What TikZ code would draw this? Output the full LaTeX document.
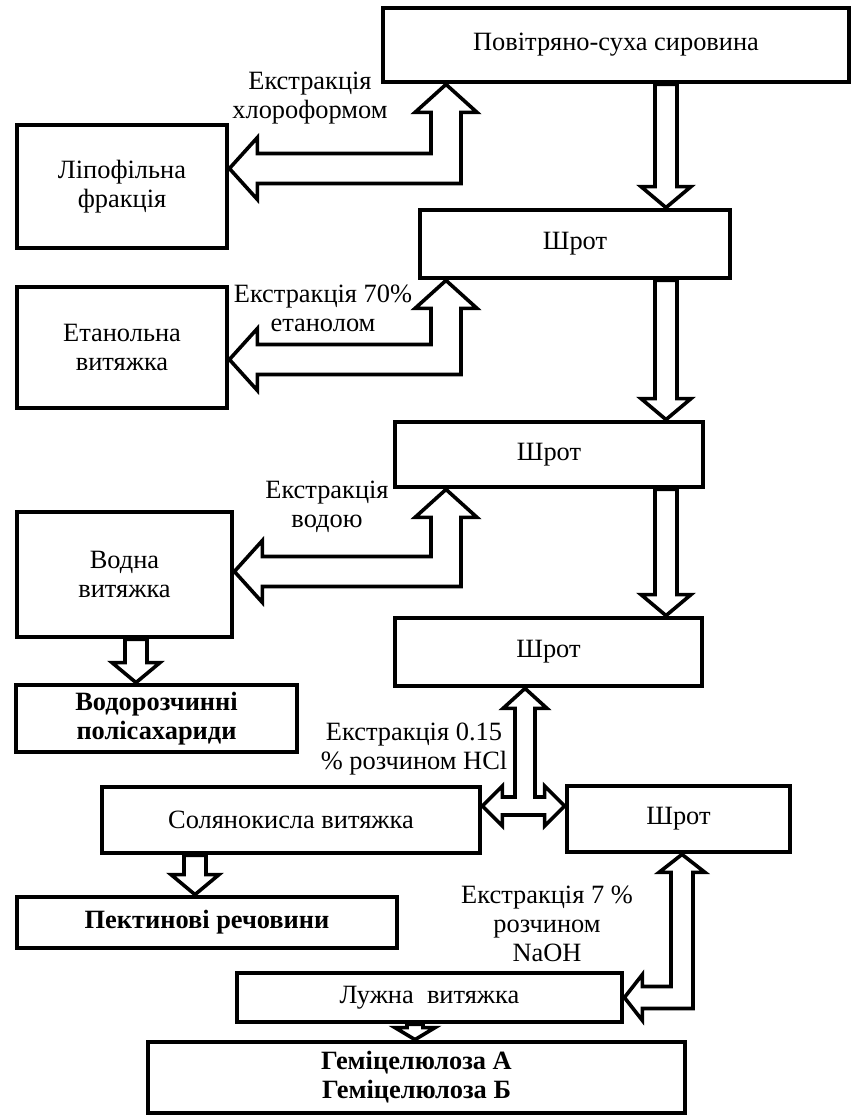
\documentclass[tikz,border=0pt]{standalone}
\usepackage{fontspec}
\setmainfont{Liberation Serif}
\usetikzlibrary{calc}

\newcommand{\mainsize}{\fontsize{13.2pt}{14.5pt}\selectfont}

% hollow block arrow pointing down: from, to, shaft, head, head length
\newcommand{\blockdown}[5]{%
  \draw[blockarrow] let \p1=(#1), \p2=(#2) in
    (\x1-#3,\y1) -- (\x1-#3,\y2+#5) -- (\x1-#4,\y2+#5) -- (\x1,\y2)
    -- (\x1+#4,\y2+#5) -- (\x1+#3,\y2+#5) -- (\x1+#3,\y1) -- cycle;}

% hollow L-shaped arrow: tip up, tip left, shaft, head, head length
\newcommand{\bentblock}[5]{%
  \draw[blockarrow] let \p1=(#1), \p2=(#2) in
    (\x1,\y1) -- (\x1+#4,\y1-#5) -- (\x1+#3,\y1-#5) -- (\x1+#3,\y2-#3)
    -- (\x2+#5,\y2-#3) -- (\x2+#5,\y2-#4) -- (\x2,\y2) -- (\x2+#5,\y2+#4)
    -- (\x2+#5,\y2+#3) -- (\x1-#3,\y2+#3) -- (\x1-#3,\y1-#5)
    -- (\x1-#4,\y1-#5) -- cycle;}

\tikzset{
  box/.style={draw, line width=2.4pt, align=center, inner sep=2pt, font=\mainsize},
  boldbox/.style={box, font=\mainsize\bfseries},
  note/.style={align=center, inner sep=1pt, font=\mainsize},
  blockarrow/.style={draw, line width=1.8pt, fill=white, line join=miter}
}

\begin{document}
\begin{tikzpicture}[x=0.5pt,y=-0.5pt]
  \useasboundingbox (0,0) rectangle (852,1117);
  \coordinate (spine) at (446,0);
  \coordinate (main) at (666,0);

  %right column
  \node[box, minimum width=233pt, minimum height=37pt] (raw) at (616,45) {Повітряно-суха сировина};
  \node[box, minimum width=155pt, minimum height=34pt] (shrot1) at (575,244) {Шрот};
  \node[box, minimum width=154pt, minimum height=32.5pt] (shrot2) at (549,454.5) {Шрот};
  \node[box, minimum width=153.5pt, minimum height=34pt] (shrot3) at (548.5,652) {Шрот};
  \node[box, minimum width=111.5pt, minimum height=33pt] (shrot4) at (678.5,819) {Шрот};

  %left column
  \node[box, minimum width=105pt, minimum height=61.5pt] (lipo) at (122,186.5) {Ліпофільна\\фракція};
  \node[box, minimum width=105pt, minimum height=60.5pt] (etanol) at (122,347.5) {Етанольна\\витяжка};
  \node[box, minimum width=107.5pt, minimum height=62.5pt] (vodna) at (124.5,574.5) {Водна\\витяжка};
  \node[boldbox, minimum width=140.5pt, minimum height=33.5pt] (polysac) at (156.5,718.5) {Водорозчинні\\полісахариди};
  \node[box, minimum width=189pt, minimum height=33pt] (soly) at (291,820) {Солянокисла витяжка};
  \node[boldbox, minimum width=190pt, minimum height=25.5pt] (pektin) at (207,922.5) {Пектинові речовини};
  \node[box, minimum width=192.5pt, minimum height=24.5pt] (luzhna) at (429.5,997.5) {Лужна\ \ витяжка};
  \node[boldbox, minimum width=268.5pt, minimum height=35.5pt] (hemi) at (416.5,1077.5) {Геміцелюлоза А\\Геміцелюлоза Б};

  %extraction labels
  \node[note] (chloro) at (310,98) {Екстракція\\хлороформом};
  \node[note] (ethanol) at (323,308) {Екстракція 70\%\\етанолом};
  \node[note] (water) at (327,507) {Екстракція\\водою};
  \node[note] (hcl) at (414,749) {Екстракція 0.15\\\% розчином HCl};
  \node[note] (naoh) at (547,924) {Екстракція 7 \%\\розчином\\NaOH};

  %main flow
  \blockdown{main |- raw.south}{main |- shrot1.north}{5.5pt}{12.5pt}{10.5pt}
  \blockdown{main |- shrot1.south}{main |- shrot2.north}{5.5pt}{12.5pt}{10.5pt}
  \blockdown{main |- shrot2.south}{main |- shrot3.north}{5.5pt}{12.5pt}{10.5pt}

  %extracts
  \bentblock{spine |- raw.south}{$(lipo.east)+(0,-18)$}{7.5pt}{15.5pt}{14pt}
  \bentblock{spine |- shrot1.south}{$(etanol.east)+(0,12)$}{7.5pt}{15.5pt}{14pt}
  \bentblock{spine |- shrot2.south}{$(vodna.east)+(0,-3)$}{7.5pt}{15.5pt}{14pt}
  \bentblock{$(shrot4.south)+(3.5,0)$}{luzhna.east}{5.5pt}{11.5pt}{9pt}

  %HCl split
  \draw[blockarrow] let \p1=($(shrot3.south)+(-23.5,0)$), \p2=($(soly.east)+(0,-14)$), \p3=(shrot4.west) in
    (\x1,\y1) -- (\x1+11pt,\y1-10pt) -- (\x1+5pt,\y1-10pt) -- (\x1+5pt,\y2+4.5pt)
    -- (\x3-10pt,\y2+4.5pt) -- (\x3-10pt,\y2+10pt) -- (\x3,\y2) -- (\x3-10pt,\y2-10pt)
    -- (\x3-10pt,\y2-4.5pt) -- (\x2+10pt,\y2-4.5pt) -- (\x2+10pt,\y2-10pt) -- (\x2,\y2)
    -- (\x2+10pt,\y2+10pt) -- (\x2+10pt,\y2+4.5pt) -- (\x1-5pt,\y2+4.5pt)
    -- (\x1-5pt,\y1-10pt) -- (\x1-11pt,\y1-10pt) -- cycle;

  %products
  \blockdown{$(vodna.south)+(11.5,0)$}{polysac.north}{5.5pt}{12pt}{10pt}
  \blockdown{$(soly.south)+(-96,0)$}{pektin.north}{5.5pt}{12pt}{10pt}
  \blockdown{$(luzhna.south)+(-14.5,0)$}{hemi.north}{4pt}{10pt}{6pt}
\end{tikzpicture}
\end{document}
